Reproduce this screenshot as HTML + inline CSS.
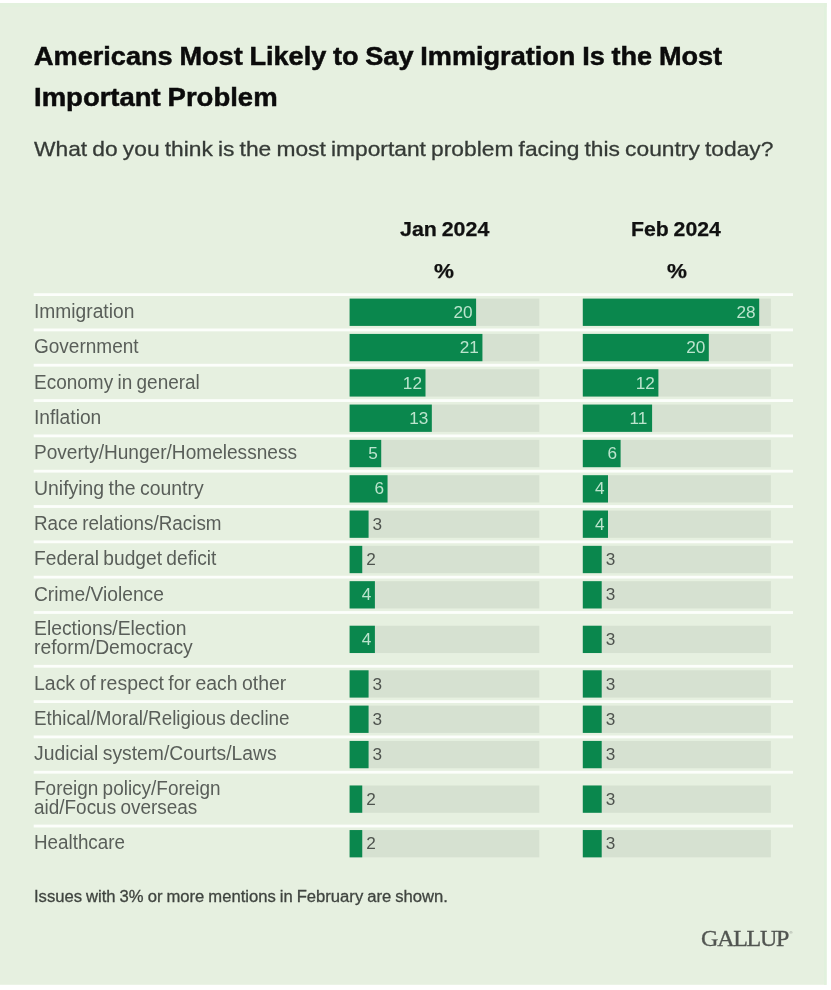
<!DOCTYPE html>
<html lang="en">
<head>
<meta charset="utf-8">
<title>Americans Most Likely to Say Immigration Is the Most Important Problem</title>
<style>
*{margin:0;padding:0;box-sizing:border-box}
html,body{width:831px;height:990px;background:#fff;overflow:hidden}
body{position:relative;font-family:"Liberation Sans",sans-serif}
svg{position:absolute;left:0;top:0}
.t{position:absolute;white-space:nowrap;line-height:1;transform-origin:0 0}
.title{font-weight:700;color:#0b0b0b;-webkit-text-stroke:0.5px #0b0b0b}
.sub{color:#353a36;-webkit-text-stroke:0.3px #353a36}
.hd{font-weight:700;color:#111;-webkit-text-stroke:0.25px #111}
.lab{color:#595e59}
.vi{color:#bbe4cd}
.vo{color:#4e534e}
.note{color:#3f443f;-webkit-text-stroke:0.3px #3f443f}
.logo{font-family:"Liberation Serif",serif;color:#515551;-webkit-text-stroke:0.35px #515551}
.reg{color:#7a7e7a}
</style>
</head>
<body>

<svg width="831" height="990" viewBox="0 0 831 990">
<rect x="0" y="3" width="826.6" height="981.8" fill="#e6f0e0"/>
<rect x="0" y="3" width="826.6" height="4" fill="#e3f1de"/>
<rect x="824" y="3" width="2.6" height="981.8" fill="#e1f1dd"/>
<rect x="33.7" y="293.20" width="759.3" height="2.8" fill="#fcfefb"/>
<rect x="349.60" y="298.61" width="189.70" height="27.3" fill="#d6e1d1"/>
<rect x="349.60" y="298.61" width="126.50" height="27.3" fill="#0a874d"/>
<rect x="582.80" y="298.61" width="188.10" height="27.3" fill="#d6e1d1"/>
<rect x="582.80" y="298.61" width="176.40" height="27.3" fill="#0a874d"/>
<rect x="33.7" y="328.52" width="759.3" height="2.8" fill="#fcfefb"/>
<rect x="349.60" y="333.93" width="189.70" height="27.3" fill="#d6e1d1"/>
<rect x="349.60" y="333.93" width="132.83" height="27.3" fill="#0a874d"/>
<rect x="582.80" y="333.93" width="188.10" height="27.3" fill="#d6e1d1"/>
<rect x="582.80" y="333.93" width="126.00" height="27.3" fill="#0a874d"/>
<rect x="33.7" y="363.84" width="759.3" height="2.8" fill="#fcfefb"/>
<rect x="349.60" y="369.25" width="189.70" height="27.3" fill="#d6e1d1"/>
<rect x="349.60" y="369.25" width="75.90" height="27.3" fill="#0a874d"/>
<rect x="582.80" y="369.25" width="188.10" height="27.3" fill="#d6e1d1"/>
<rect x="582.80" y="369.25" width="75.60" height="27.3" fill="#0a874d"/>
<rect x="33.7" y="399.16" width="759.3" height="2.8" fill="#fcfefb"/>
<rect x="349.60" y="404.57" width="189.70" height="27.3" fill="#d6e1d1"/>
<rect x="349.60" y="404.57" width="82.23" height="27.3" fill="#0a874d"/>
<rect x="582.80" y="404.57" width="188.10" height="27.3" fill="#d6e1d1"/>
<rect x="582.80" y="404.57" width="69.30" height="27.3" fill="#0a874d"/>
<rect x="33.7" y="434.48" width="759.3" height="2.8" fill="#fcfefb"/>
<rect x="349.60" y="439.89" width="189.70" height="27.3" fill="#d6e1d1"/>
<rect x="349.60" y="439.89" width="31.62" height="27.3" fill="#0a874d"/>
<rect x="582.80" y="439.89" width="188.10" height="27.3" fill="#d6e1d1"/>
<rect x="582.80" y="439.89" width="37.80" height="27.3" fill="#0a874d"/>
<rect x="33.7" y="469.80" width="759.3" height="2.8" fill="#fcfefb"/>
<rect x="349.60" y="475.21" width="189.70" height="27.3" fill="#d6e1d1"/>
<rect x="349.60" y="475.21" width="37.95" height="27.3" fill="#0a874d"/>
<rect x="582.80" y="475.21" width="188.10" height="27.3" fill="#d6e1d1"/>
<rect x="582.80" y="475.21" width="25.20" height="27.3" fill="#0a874d"/>
<rect x="33.7" y="505.12" width="759.3" height="2.8" fill="#fcfefb"/>
<rect x="349.60" y="510.53" width="189.70" height="27.3" fill="#d6e1d1"/>
<rect x="349.60" y="510.53" width="18.98" height="27.3" fill="#0a874d"/>
<rect x="582.80" y="510.53" width="188.10" height="27.3" fill="#d6e1d1"/>
<rect x="582.80" y="510.53" width="25.20" height="27.3" fill="#0a874d"/>
<rect x="33.7" y="540.44" width="759.3" height="2.8" fill="#fcfefb"/>
<rect x="349.60" y="545.85" width="189.70" height="27.3" fill="#d6e1d1"/>
<rect x="349.60" y="545.85" width="12.65" height="27.3" fill="#0a874d"/>
<rect x="582.80" y="545.85" width="188.10" height="27.3" fill="#d6e1d1"/>
<rect x="582.80" y="545.85" width="18.90" height="27.3" fill="#0a874d"/>
<rect x="33.7" y="575.76" width="759.3" height="2.8" fill="#fcfefb"/>
<rect x="349.60" y="581.17" width="189.70" height="27.3" fill="#d6e1d1"/>
<rect x="349.60" y="581.17" width="25.30" height="27.3" fill="#0a874d"/>
<rect x="582.80" y="581.17" width="188.10" height="27.3" fill="#d6e1d1"/>
<rect x="582.80" y="581.17" width="18.90" height="27.3" fill="#0a874d"/>
<rect x="33.7" y="611.08" width="759.3" height="2.8" fill="#fcfefb"/>
<rect x="349.60" y="625.73" width="189.70" height="27.3" fill="#d6e1d1"/>
<rect x="349.60" y="625.73" width="25.30" height="27.3" fill="#0a874d"/>
<rect x="582.80" y="625.73" width="188.10" height="27.3" fill="#d6e1d1"/>
<rect x="582.80" y="625.73" width="18.90" height="27.3" fill="#0a874d"/>
<rect x="33.7" y="664.88" width="759.3" height="2.8" fill="#fcfefb"/>
<rect x="349.60" y="670.29" width="189.70" height="27.3" fill="#d6e1d1"/>
<rect x="349.60" y="670.29" width="18.98" height="27.3" fill="#0a874d"/>
<rect x="582.80" y="670.29" width="188.10" height="27.3" fill="#d6e1d1"/>
<rect x="582.80" y="670.29" width="18.90" height="27.3" fill="#0a874d"/>
<rect x="33.7" y="700.20" width="759.3" height="2.8" fill="#fcfefb"/>
<rect x="349.60" y="705.61" width="189.70" height="27.3" fill="#d6e1d1"/>
<rect x="349.60" y="705.61" width="18.98" height="27.3" fill="#0a874d"/>
<rect x="582.80" y="705.61" width="188.10" height="27.3" fill="#d6e1d1"/>
<rect x="582.80" y="705.61" width="18.90" height="27.3" fill="#0a874d"/>
<rect x="33.7" y="735.52" width="759.3" height="2.8" fill="#fcfefb"/>
<rect x="349.60" y="740.93" width="189.70" height="27.3" fill="#d6e1d1"/>
<rect x="349.60" y="740.93" width="18.98" height="27.3" fill="#0a874d"/>
<rect x="582.80" y="740.93" width="188.10" height="27.3" fill="#d6e1d1"/>
<rect x="582.80" y="740.93" width="18.90" height="27.3" fill="#0a874d"/>
<rect x="33.7" y="770.84" width="759.3" height="2.8" fill="#fcfefb"/>
<rect x="349.60" y="785.49" width="189.70" height="27.3" fill="#d6e1d1"/>
<rect x="349.60" y="785.49" width="12.65" height="27.3" fill="#0a874d"/>
<rect x="582.80" y="785.49" width="188.10" height="27.3" fill="#d6e1d1"/>
<rect x="582.80" y="785.49" width="18.90" height="27.3" fill="#0a874d"/>
<rect x="33.7" y="824.64" width="759.3" height="2.8" fill="#fcfefb"/>
<rect x="349.60" y="830.05" width="189.70" height="27.3" fill="#d6e1d1"/>
<rect x="349.60" y="830.05" width="12.65" height="27.3" fill="#0a874d"/>
<rect x="582.80" y="830.05" width="188.10" height="27.3" fill="#d6e1d1"/>
<rect x="582.80" y="830.05" width="18.90" height="27.3" fill="#0a874d"/>
</svg>
<div class="t title" style="left:34.14px;top:43px;font-size:26.6px;word-spacing:-0.8px;transform:scaleX(1.0197)">Americans Most Likely to Say Immigration Is the Most</div>
<div class="t title" style="left:34.09px;top:84px;font-size:26.6px;word-spacing:-0.8px;transform:scaleX(1.0338)">Important Problem</div>
<div class="t sub" style="left:34.43px;top:138px;font-size:21.0px;word-spacing:-1.1px;transform:scaleX(1.0853)">What do you think is the most important problem facing this country today?</div>
<div class="t hd" style="left:400.03px;top:220px;font-size:19.8px;word-spacing:-1px;transform:scaleX(1.0809)">Jan 2024</div>
<div class="t hd" style="left:434.39px;top:261px;font-size:20.2px;transform:scaleX(1.1118)">%</div>
<div class="t hd" style="left:631.26px;top:220px;font-size:19.8px;word-spacing:-1px;transform:scaleX(1.0736)">Feb 2024</div>
<div class="t hd" style="left:666.79px;top:261px;font-size:20.2px;transform:scaleX(1.1118)">%</div>
<div class="t lab" style="left:33.78px;top:302px;font-size:19.6px;word-spacing:-1.0px;transform:scaleX(0.9804)">Immigration</div>
<div class="t vi" style="left:453.47px;top:304px;font-size:17.2px">20</div>
<div class="t vi" style="left:736.57px;top:304px;font-size:17.2px">28</div>
<div class="t lab" style="left:33.93px;top:337px;font-size:19.6px;word-spacing:-1.0px;transform:scaleX(0.9705)">Government</div>
<div class="t vi" style="left:459.79px;top:339px;font-size:17.2px">21</div>
<div class="t vi" style="left:686.17px;top:339px;font-size:17.2px">20</div>
<div class="t lab" style="left:34.05px;top:373px;font-size:19.6px;word-spacing:-1.0px;transform:scaleX(0.9688)">Economy in general</div>
<div class="t vi" style="left:402.87px;top:375px;font-size:17.2px">12</div>
<div class="t vi" style="left:635.77px;top:375px;font-size:17.2px">12</div>
<div class="t lab" style="left:33.78px;top:408px;font-size:19.6px;word-spacing:-1.0px;transform:scaleX(0.9802)">Inflation</div>
<div class="t vi" style="left:409.19px;top:410px;font-size:17.2px">13</div>
<div class="t vi" style="left:629.47px;top:410px;font-size:17.2px">11</div>
<div class="t lab" style="left:34.04px;top:443px;font-size:19.6px;word-spacing:-1.0px;transform:scaleX(0.9737)">Poverty/Hunger/Homelessness</div>
<div class="t vi" style="left:368.16px;top:445px;font-size:17.2px">5</div>
<div class="t vi" style="left:607.53px;top:445px;font-size:17.2px">6</div>
<div class="t lab" style="left:34.01px;top:479px;font-size:19.6px;word-spacing:-1.0px;transform:scaleX(0.9912)">Unifying the country</div>
<div class="t vi" style="left:374.48px;top:480px;font-size:17.2px">6</div>
<div class="t vi" style="left:594.93px;top:480px;font-size:17.2px">4</div>
<div class="t lab" style="left:34.06px;top:514px;font-size:19.6px;word-spacing:-1.0px;transform:scaleX(0.9618)">Race relations/Racism</div>
<div class="t vo" style="left:372.58px;top:516px;font-size:17.2px">3</div>
<div class="t vi" style="left:594.93px;top:516px;font-size:17.2px">4</div>
<div class="t lab" style="left:34.03px;top:549px;font-size:19.6px;word-spacing:-1.0px;transform:scaleX(0.9786)">Federal budget deficit</div>
<div class="t vo" style="left:366.25px;top:551px;font-size:17.2px">2</div>
<div class="t vo" style="left:605.70px;top:551px;font-size:17.2px">3</div>
<div class="t lab" style="left:33.92px;top:585px;font-size:19.6px;word-spacing:-1.0px;transform:scaleX(0.9805)">Crime/Violence</div>
<div class="t vi" style="left:361.83px;top:586px;font-size:17.2px">4</div>
<div class="t vo" style="left:605.70px;top:586px;font-size:17.2px">3</div>
<div class="t lab" style="left:34.02px;top:619px;font-size:19.6px;word-spacing:-1.0px;transform:scaleX(0.9852)">Elections/Election</div>
<div class="t lab" style="left:34.07px;top:638px;font-size:19.6px;word-spacing:-1.0px;transform:scaleX(0.9853)">reform/Democracy</div>
<div class="t vi" style="left:361.83px;top:631px;font-size:17.2px">4</div>
<div class="t vo" style="left:605.70px;top:631px;font-size:17.2px">3</div>
<div class="t lab" style="left:34.01px;top:674px;font-size:19.6px;word-spacing:-1.0px;transform:scaleX(0.9925)">Lack of respect for each other</div>
<div class="t vo" style="left:372.58px;top:676px;font-size:17.2px">3</div>
<div class="t vo" style="left:605.70px;top:676px;font-size:17.2px">3</div>
<div class="t lab" style="left:34.06px;top:709px;font-size:19.6px;word-spacing:-1.0px;transform:scaleX(0.9613)">Ethical/Moral/Religious decline</div>
<div class="t vo" style="left:372.58px;top:711px;font-size:17.2px">3</div>
<div class="t vo" style="left:605.70px;top:711px;font-size:17.2px">3</div>
<div class="t lab" style="left:34.05px;top:744px;font-size:19.6px;word-spacing:-1.0px;transform:scaleX(0.9855)">Judicial system/Courts/Laws</div>
<div class="t vo" style="left:372.58px;top:746px;font-size:17.2px">3</div>
<div class="t vo" style="left:605.70px;top:746px;font-size:17.2px">3</div>
<div class="t lab" style="left:34.05px;top:779px;font-size:19.6px;word-spacing:-1.0px;transform:scaleX(0.9679)">Foreign policy/Foreign</div>
<div class="t lab" style="left:34.18px;top:798px;font-size:19.6px;word-spacing:-1.0px;transform:scaleX(0.9666)">aid/Focus overseas</div>
<div class="t vo" style="left:366.25px;top:791px;font-size:17.2px">2</div>
<div class="t vo" style="left:605.70px;top:791px;font-size:17.2px">3</div>
<div class="t lab" style="left:34.06px;top:833px;font-size:19.6px;word-spacing:-1.0px;transform:scaleX(0.9600)">Healthcare</div>
<div class="t vo" style="left:366.25px;top:835px;font-size:17.2px">2</div>
<div class="t vo" style="left:605.70px;top:835px;font-size:17.2px">3</div>
<div class="t note" style="left:33.74px;top:889px;font-size:16px;word-spacing:-0.6px;transform:scaleX(1.0391)">Issues with 3% or more mentions in February are shown.</div>
<div class="t logo" style="left:701.10px;top:926px;font-size:24px;letter-spacing:-1.270px">GALLUP</div>
<div class="t reg" style="left:789.60px;top:931px;font-size:4.2px">®</div>
</body>
</html>
